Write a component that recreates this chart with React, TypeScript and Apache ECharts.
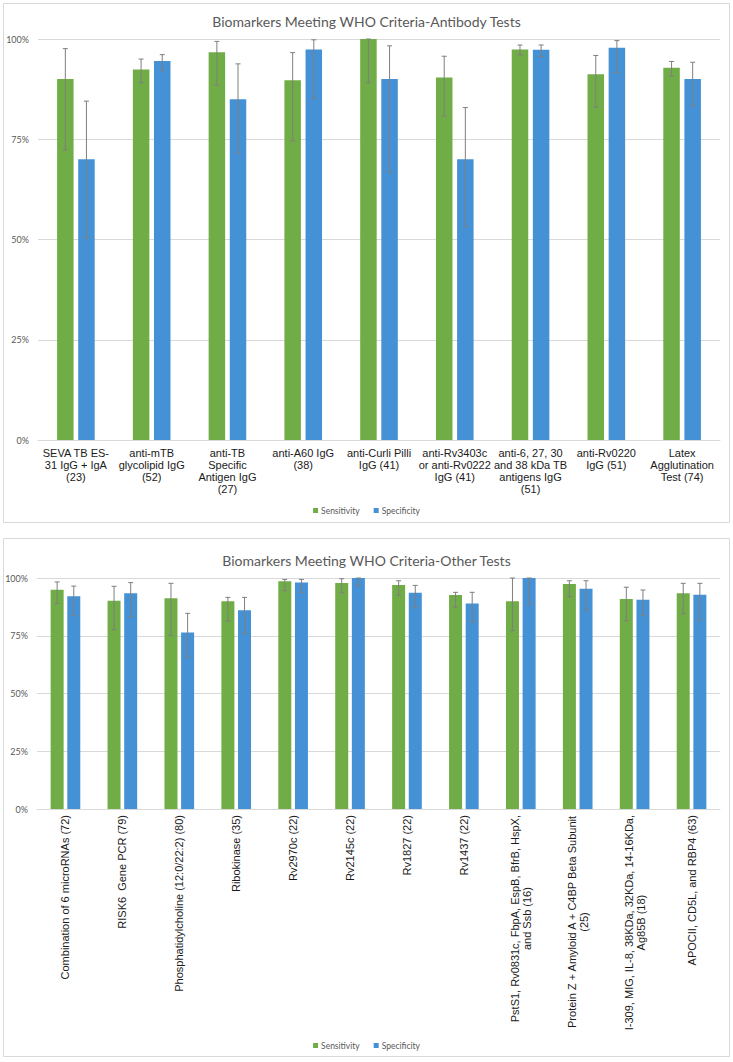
import React, { useEffect, useRef } from "react";
import * as echarts from "echarts";

// Antibody tests (top panel)
const antibodyTests = [
  "SEVA TB ES-\n31 IgG + IgA\n(23)",
  "anti-mTB\nglycolipid IgG\n(52)",
  "anti-TB\nSpecific\nAntigen IgG\n(27)",
  "anti-A60 IgG\n(38)",
  "anti-Curli Pilli\nIgG (41)",
  "anti-Rv3403c\nor anti-Rv0222\nIgG (41)",
  "anti-6, 27, 30\nand 38 kDa TB\nantigens IgG\n(51)",
  "anti-Rv0220\nIgG (51)",
  "Latex\nAgglutination\nTest (74)",
];
const abSens = [90, 92.4, 96.7, 89.7, 100, 90.4, 97.4, 91.2, 92.8];
const abSensLow = [72.3, 89.1, 88.5, 74.6, 89.1, 80.8, 96.0, 83.0, 90.8];
const abSensHigh = [97.6, 95.0, 99.4, 96.6, 100, 95.7, 98.5, 95.9, 94.4];
const abSpec = [70, 94.5, 85, 97.4, 90, 70, 97.3, 97.8, 90];
const abSpecLow = [50.4, 92.1, 71.6, 85.2, 66.8, 53.2, 95.6, 91.6, 83.3];
const abSpecHigh = [84.5, 96.1, 93.8, 99.8, 98.3, 82.9, 98.5, 99.6, 94.2];

// Other tests (bottom panel)
const otherTests = [
  "Combination of 6 microRNAs (72)",
  "RISK6  Gene PCR (79)",
  "Phosphatidylcholine (12:0/22:2) (80)",
  "Ribokinase (35)",
  "Rv2970c (22)",
  "Rv2145c (22)",
  "Rv1827 (22)",
  "Rv1437 (22)",
  "PstS1, Rv0831c, FbpA, EspB, BfrB, HspX,\nand Ssb (16)",
  "Protein Z + Amyloid A + C4BP Beta Subunit\n(25)",
  "I-309, MIG, IL-8, 38KDa, 32KDa, 14-16KDa,\nAg85B (18)",
  "APOCII, CD5L, and RBP4 (63)",
];
const otSens = [94.9, 90.2, 91.2, 89.9, 98.6, 97.8, 97.0, 92.6, 89.9, 97.4, 90.9, 93.4];
const otSensLow = [88.9, 77.6, 75.1, 81.4, 94.5, 93.6, 92.6, 87.4, 77.2, 91.9, 81.5, 84.5];
const otSensHigh = [98.3, 96.4, 97.7, 91.6, 99.4, 99.7, 98.8, 93.8, 100, 98.8, 96.0, 97.7];
const otSpec = [92.1, 93.4, 76.4, 86.0, 98.1, 100, 93.6, 89.0, 100, 95.4, 90.6, 92.8];
const otSpecLow = [83.7, 83.2, 65.8, 76.2, 93.8, 96.8, 87.1, 81.0, 88.4, 86.1, 83.7, 81.6];
const otSpecHigh = [96.5, 98.0, 84.7, 91.6, 99.4, 100, 96.8, 93.8, 100, 98.8, 94.8, 97.7];

const yTicks = [0, 25, 50, 75, 100];

const GREEN = "#70AD47";
const BLUE = "#4591D5";
const GRAY = "#595959";
const LINE = "#D9D9D9";
const TITLE_FONT = "Lato, 'Open Sans', sans-serif";
const LABEL_FONT = "'Liberation Sans', Arial, sans-serif";

// rows for the error-bar custom series: [category, low, high, side]
const errRows = (lowA: number[], highA: number[], lowB: number[], highB: number[]) => [
  ...lowA.map((l, i) => [i, l, highA[i], -1]),
  ...lowB.map((l, i) => [i, l, highB[i], 1]),
];

const errorSeries = (axisIndex: number, rows: number[][], offset: number) => ({
  type: "custom",
  name: "err" + axisIndex,
  xAxisIndex: axisIndex,
  yAxisIndex: axisIndex,
  z: 5,
  silent: true,
  encode: { x: 0, y: [1, 2] },
  data: rows,
  renderItem: (params: any, api: any) => {
    const side = api.value(3);
    const lo = api.coord([api.value(0), api.value(1)]);
    const hi = api.coord([api.value(0), api.value(2)]);
    const x = lo[0] + side * offset;
    const style = { stroke: "#7F7F7F", lineWidth: 1 };
    return {
      type: "group",
      children: [
        { type: "line", shape: { x1: x, y1: lo[1], x2: x, y2: hi[1] }, style },
        { type: "line", shape: { x1: x - 2.5, y1: lo[1], x2: x + 2.5, y2: lo[1] }, style },
        { type: "line", shape: { x1: x - 2.5, y1: hi[1], x2: x + 2.5, y2: hi[1] }, style },
      ],
    };
  },
});

const yAxisCfg = (gridIndex: number) => ({
  type: "value",
  gridIndex,
  min: 0,
  max: 100,
  interval: 25,
  axisLine: { show: false },
  axisTick: { show: false },
  splitLine: { lineStyle: { color: LINE, width: 1 } },
  axisLabel: {
    color: GRAY,
    fontSize: 9,
    fontFamily: TITLE_FONT,
    margin: 9,
    formatter: (v: number) => (yTicks.includes(v) ? v + "%" : ""),
  },
});

const legendCfg = (top: number) => ({
  data: ["Sensitivity", "Specificity"],
  top,
  left: "center",
  icon: "rect",
  itemWidth: 5,
  itemHeight: 5,
  itemGap: 14,
  selectedMode: false,
  textStyle: { fontFamily: TITLE_FONT, fontSize: 8.5, color: GRAY, padding: [0, 0, 0, -2] },
});

const App: React.FC = () => {
  const chartRef = useRef<HTMLDivElement>(null);

  useEffect(() => {
    if (!chartRef.current) return;
    const chart = echarts.init(chartRef.current, undefined, { renderer: "svg" });

    chart.setOption({
      animation: false,
      backgroundColor: "#fff",
      title: [
        {
          text: "Biomarkers Meeting WHO Criteria-Antibody Tests",
          left: "center",
          top: 9,
          textStyle: { fontFamily: TITLE_FONT, fontSize: 14, fontWeight: "normal", color: GRAY },
        },
        {
          text: "Biomarkers Meeting WHO Criteria-Other Tests",
          left: "center",
          top: 548,
          textStyle: { fontFamily: TITLE_FONT, fontSize: 14, fontWeight: "normal", color: GRAY },
        },
      ],
      legend: [legendCfg(501), legendCfg(1036)],
      graphic: [
        { type: "rect", shape: { x: 3.5, y: 3.5, width: 726, height: 519 }, style: { fill: "none", stroke: LINE, lineWidth: 1 } },
        { type: "rect", shape: { x: 3.5, y: 538.5, width: 726, height: 518 }, style: { fill: "none", stroke: LINE, lineWidth: 1 } },
      ],
      grid: [
        { left: 38, right: 13, top: 39, height: 401 },
        { left: 37, right: 13, top: 578, height: 231 },
      ],
      xAxis: [
        {
          type: "category",
          gridIndex: 0,
          data: antibodyTests,
          axisLine: { lineStyle: { color: LINE } },
          axisTick: { show: false },
          axisLabel: {
            interval: 0,
            color: "#1a1a1a",
            fontFamily: LABEL_FONT,
            fontSize: 11,
            lineHeight: 12,
            margin: 7,
          },
        },
        {
          type: "category",
          gridIndex: 1,
          data: otherTests,
          axisLine: { lineStyle: { color: LINE } },
          axisTick: { show: false },
          axisLabel: {
            interval: 0,
            rotate: 90,
            margin: 6,
            formatter: (v: string) => v.split("\n").map((l) => `{c|${l}}`).join("\n"),
            rich: {
              c: {
                align: "center",
                color: "#1a1a1a",
                fontFamily: LABEL_FONT,
                fontSize: 11,
                lineHeight: 12,
              },
            },
          },
        },
      ],
      yAxis: [yAxisCfg(0), yAxisCfg(1)],
      series: [
        {
          name: "Sensitivity",
          type: "bar",
          xAxisIndex: 0,
          yAxisIndex: 0,
          data: abSens,
          barWidth: 16.5,
          barGap: "28%",
          itemStyle: { color: GREEN },
        },
        {
          name: "Specificity",
          type: "bar",
          xAxisIndex: 0,
          yAxisIndex: 0,
          data: abSpec,
          barWidth: 16.5,
          barGap: "28%",
          itemStyle: { color: BLUE },
        },
        errorSeries(0, errRows(abSensLow, abSensHigh, abSpecLow, abSpecHigh), (16.5 + 16.5 * 0.28) / 2),
        {
          name: "Sensitivity",
          type: "bar",
          xAxisIndex: 1,
          yAxisIndex: 1,
          data: otSens,
          barWidth: 13,
          barGap: "28%",
          itemStyle: { color: GREEN },
        },
        {
          name: "Specificity",
          type: "bar",
          xAxisIndex: 1,
          yAxisIndex: 1,
          data: otSpec,
          barWidth: 13,
          barGap: "28%",
          itemStyle: { color: BLUE },
        },
        errorSeries(1, errRows(otSensLow, otSensHigh, otSpecLow, otSpecHigh), (13 + 13 * 0.28) / 2),
      ],
    });

    return () => {
      chart.dispose();
    };
  }, []);

  return (
    <div
      ref={chartRef}
      style={{ position: "absolute", left: 0, top: 0, width: 733, height: 1062 }}
    />
  );
};

export default App;
